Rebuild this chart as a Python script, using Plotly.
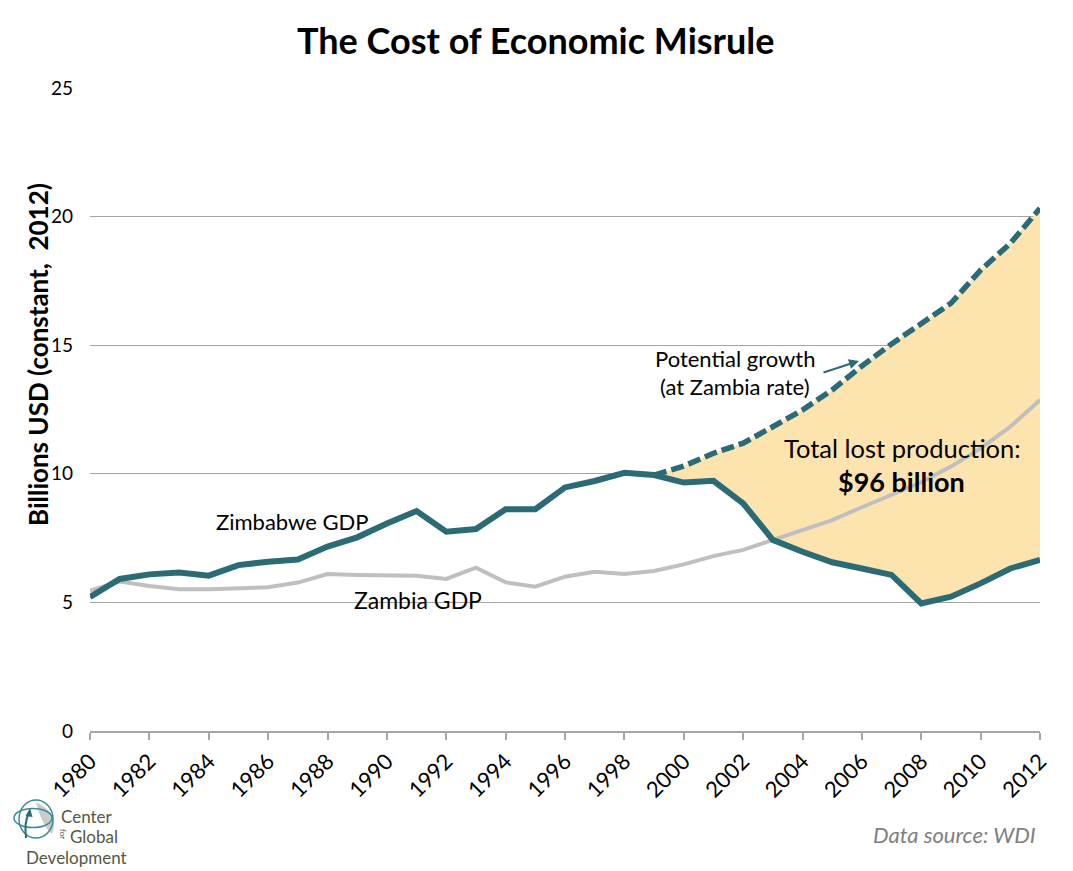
import plotly.graph_objects as go

years = list(range(1980, 2013))
zimbabwe = [5.21, 5.91, 6.09, 6.16, 6.04, 6.45, 6.58, 6.67, 7.17, 7.53, 8.07, 8.55,
            7.75, 7.85, 8.62, 8.62, 9.47, 9.72, 10.04, 9.95, 9.66, 9.73, 8.85, 7.43,
            6.97, 6.56, 6.32, 6.07, 4.96, 5.22, 5.74, 6.32, 6.65]
zambia = [5.46, 5.81, 5.64, 5.51, 5.51, 5.55, 5.59, 5.77, 6.10, 6.07, 6.04, 6.04,
          5.91, 6.35, 5.78, 5.61, 6.00, 6.19, 6.10, 6.22, 6.48, 6.80, 7.04, 7.43,
          7.81, 8.20, 8.70, 9.18, 9.67, 10.28, 10.99, 11.83, 12.87]
potential_years = list(range(1999, 2013))
potential = [9.95, 10.30, 10.80, 11.19, 11.83, 12.48, 13.26, 14.19, 15.05, 15.85,
             16.63, 17.92, 18.96, 20.32]
x_ticks = list(range(1980, 2013, 2))
y_ticks = [0, 5, 10, 15, 20, 25]

TEAL = "#2B6B76"
GRAY = "#BFBFBF"
FILL = "#FDE4AE"
FONT = "Lato"

W, H = 1073, 871
OFF = 8  # page body offset
L, T = 90 - OFF, 88 - OFF
R = W - (1040 - OFF)
B = H - (731 - OFF)
PW, PH = W - L - R, H - T - B

def px(x):
    return (x - OFF - L) / PW

def py(y):
    return (H - B - (y - OFF)) / PH

zim_base = [zimbabwe[years.index(y)] for y in potential_years]

fig = go.Figure()
fig.add_trace(go.Scatter(x=potential_years, y=zim_base, mode="lines",
                         line=dict(width=0, color=FILL), showlegend=False, hoverinfo="skip"))
fig.add_trace(go.Scatter(x=potential_years, y=potential, mode="lines", fill="tonexty",
                         fillcolor=FILL, line=dict(width=0, color=FILL), showlegend=False,
                         hoverinfo="skip"))
fig.add_trace(go.Scatter(x=years, y=zambia, mode="lines", name="Zambia GDP",
                         line=dict(color=GRAY, width=4), showlegend=False))
fig.add_trace(go.Scatter(x=years, y=zimbabwe, mode="lines", name="Zimbabwe GDP",
                         line=dict(color=TEAL, width=6), showlegend=False))
fig.add_trace(go.Scatter(x=potential_years, y=potential, mode="lines", name="Potential growth",
                         line=dict(color=TEAL, width=5.5, dash="13px,5px"), showlegend=False))

annotations = [
    dict(x=px(536), y=py(40), text="<b>The Cost of Economic Misrule</b>",
         font=dict(size=36, color="black")),
    dict(x=px(38), y=py(355), text="<b>Billions USD (constant,  2012)</b>", textangle=-90,
         font=dict(size=26, color="black")),
    dict(x=px(292), y=py(521), text="Zimbabwe GDP", font=dict(size=22, color="black")),
    dict(x=px(418), y=py(600), text="Zambia GDP", font=dict(size=23, color="black")),
    dict(x=px(735), y=py(359), text="Potential growth", font=dict(size=22, color="black")),
    dict(x=px(735), y=py(386), text="(at Zambia rate)", font=dict(size=22, color="black")),
    dict(x=px(902), y=py(448), text="Total lost production:", font=dict(size=25.5, color="black")),
    dict(x=px(901), y=py(481), text="<b>$96 billion</b>", font=dict(size=27, color="black")),
    dict(x=px(1038), y=py(834), text="<i>Data source: WDI</i>", xanchor="right",
         font=dict(size=22, color="#7F7F7F")),
    dict(x=px(59), y=py(816), text="Center", xanchor="left", font=dict(size=17, color="#55573F")),
    dict(x=px(63), y=py(834), text="for", textangle=90, font=dict(size=8, color="#55573F")),
    dict(x=px(68), y=py(836), text="Global", xanchor="left", font=dict(size=17, color="#55573F")),
    dict(x=px(24), y=py(857), text="Development", xanchor="left", font=dict(size=17, color="#55573F")),
    dict(x=px(859), y=py(361), ax=-37, ay=12, axref="pixel", ayref="pixel",
         text="", showarrow=True, arrowhead=2,
         arrowsize=1, arrowwidth=2, arrowcolor=TEAL),
]
for a in annotations:
    a.setdefault("xref", "paper")
    a.setdefault("yref", "paper")
    a.setdefault("showarrow", False)
    a.setdefault("yanchor", "middle")
    a.setdefault("xanchor", "center")

def ell(cx, cy, rx, ry, **kw):
    return dict(type="circle", xref="paper", yref="paper",
                x0=px(cx - rx), x1=px(cx + rx), y0=py(cy + ry), y1=py(cy - ry), **kw)

shapes = [
    dict(type="path", xref="paper", yref="paper",
         path=f"M {px(36)},{py(802)} Q {px(60)},{py(814)} {px(52)},{py(834)} "
              f"Q {px(42)},{py(826)} {px(36)},{py(802)} Z",
         fillcolor="#C9CBCF", line=dict(width=0)),
    ell(33, 818, 19, 9.5, line=dict(color="#3E8C94", width=1.5)),
    ell(36, 819, 17, 19, line=dict(color="#3E8C94", width=1.5)),
    dict(type="path", xref="paper", yref="paper",
         path=f"M {px(26)},{py(838)} Q {px(24)},{py(822)} {px(29)},{py(813)}",
         line=dict(color=TEAL, width=2)),
    dict(type="path", xref="paper", yref="paper",
         path=f"M {px(25.5)},{py(816)} L {px(30)},{py(808)} L {px(32.5)},{py(817)} Z",
         fillcolor=TEAL, line=dict(width=0)),
]

fig.update_layout(
    width=W, height=H,
    margin=dict(l=L, r=R, t=T, b=B),
    paper_bgcolor="white", plot_bgcolor="white",
    font=dict(family=FONT, color="black"),
    annotations=annotations, shapes=shapes,
    xaxis=dict(range=[1980, 2012], tickvals=x_ticks, ticktext=[str(t) for t in x_ticks],
               tickangle=-45, tickfont=dict(size=22), showgrid=False, zeroline=False,
               showline=True, linecolor="#A6A6A6", linewidth=1.5, ticks="outside",
               ticklen=7, tickcolor="#A6A6A6", tickwidth=1.5),
    yaxis=dict(range=[0, 25], tickvals=y_ticks, tickfont=dict(size=19),
               showgrid=True, gridcolor="#A6A6A6", gridwidth=1, zeroline=False,
               showline=False, ticks="", ticklabelstandoff=16),
)

fig.write_html("out.html")
